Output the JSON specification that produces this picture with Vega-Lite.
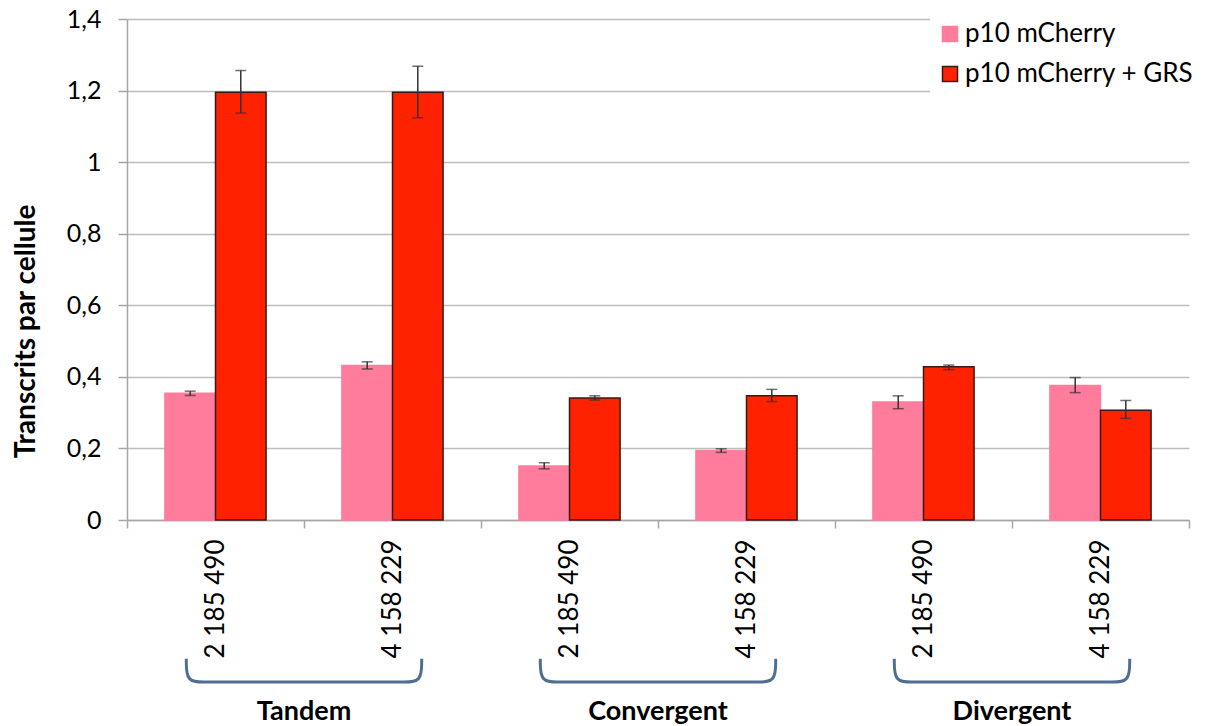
{
  "$schema": "https://vega.github.io/schema/vega-lite/v6.json",
  "width": 1062,
  "height": 501,
  "autosize": "none",
  "padding": {"left": 127, "top": 19, "right": 17, "bottom": 206},
  "background": "white",
  "config": {
    "view": {"stroke": null},
    "font": "Lato",
    "axis": {
      "domainColor": "#A6A6A6",
      "tickColor": "#A6A6A6",
      "gridColor": "#BDBDBD",
      "labelColor": "black",
      "titleColor": "black"
    }
  },
  "datasets": {
    "bars": [
      {"cat": "Tandem|2 185 490", "series": "p10 mCherry", "value": 0.354, "lo": 0.348, "hi": 0.360},
      {"cat": "Tandem|2 185 490", "series": "p10 mCherry + GRS", "value": 1.195, "lo": 1.137, "hi": 1.256},
      {"cat": "Tandem|4 158 229", "series": "p10 mCherry", "value": 0.432, "lo": 0.422, "hi": 0.442},
      {"cat": "Tandem|4 158 229", "series": "p10 mCherry + GRS", "value": 1.195, "lo": 1.124, "hi": 1.268},
      {"cat": "Convergent|2 185 490", "series": "p10 mCherry", "value": 0.151, "lo": 0.143, "hi": 0.160},
      {"cat": "Convergent|2 185 490", "series": "p10 mCherry + GRS", "value": 0.341, "lo": 0.335, "hi": 0.347},
      {"cat": "Convergent|4 158 229", "series": "p10 mCherry", "value": 0.194, "lo": 0.189, "hi": 0.199},
      {"cat": "Convergent|4 158 229", "series": "p10 mCherry + GRS", "value": 0.347, "lo": 0.331, "hi": 0.365},
      {"cat": "Divergent|2 185 490", "series": "p10 mCherry", "value": 0.330, "lo": 0.311, "hi": 0.347},
      {"cat": "Divergent|2 185 490", "series": "p10 mCherry + GRS", "value": 0.428, "lo": 0.420, "hi": 0.433},
      {"cat": "Divergent|4 158 229", "series": "p10 mCherry", "value": 0.376, "lo": 0.356, "hi": 0.398},
      {"cat": "Divergent|4 158 229", "series": "p10 mCherry + GRS", "value": 0.307, "lo": 0.284, "hi": 0.334}
    ],
    "braces": [
      {"group": "Tandem", "k": 1, "pos": 0.335, "level": -0.388},
      {"group": "Tandem", "k": 2, "pos": 0.335, "level": -0.453},
      {"group": "Tandem", "k": 3, "pos": 0.435, "level": -0.453},
      {"group": "Tandem", "k": 4, "pos": 0.535, "level": -0.453},
      {"group": "Tandem", "k": 5, "pos": 1.465, "level": -0.453},
      {"group": "Tandem", "k": 6, "pos": 1.565, "level": -0.453},
      {"group": "Tandem", "k": 7, "pos": 1.665, "level": -0.453},
      {"group": "Tandem", "k": 8, "pos": 1.665, "level": -0.388},
      {"group": "Convergent", "k": 1, "pos": 2.335, "level": -0.388},
      {"group": "Convergent", "k": 2, "pos": 2.335, "level": -0.453},
      {"group": "Convergent", "k": 3, "pos": 2.435, "level": -0.453},
      {"group": "Convergent", "k": 4, "pos": 2.535, "level": -0.453},
      {"group": "Convergent", "k": 5, "pos": 3.465, "level": -0.453},
      {"group": "Convergent", "k": 6, "pos": 3.565, "level": -0.453},
      {"group": "Convergent", "k": 7, "pos": 3.665, "level": -0.453},
      {"group": "Convergent", "k": 8, "pos": 3.665, "level": -0.388},
      {"group": "Divergent", "k": 1, "pos": 4.335, "level": -0.388},
      {"group": "Divergent", "k": 2, "pos": 4.335, "level": -0.453},
      {"group": "Divergent", "k": 3, "pos": 4.435, "level": -0.453},
      {"group": "Divergent", "k": 4, "pos": 4.535, "level": -0.453},
      {"group": "Divergent", "k": 5, "pos": 5.465, "level": -0.453},
      {"group": "Divergent", "k": 6, "pos": 5.565, "level": -0.453},
      {"group": "Divergent", "k": 7, "pos": 5.665, "level": -0.453},
      {"group": "Divergent", "k": 8, "pos": 5.665, "level": -0.388}
    ],
    "groups": [
      {"group": "Tandem", "pos": 1, "level": -0.537},
      {"group": "Convergent", "pos": 3, "level": -0.537},
      {"group": "Divergent", "pos": 5, "level": -0.537}
    ]
  },
  "layer": [
    {
      "data": {"name": "bars"},
      "encoding": {
        "x": {
          "field": "cat", "type": "nominal", "sort": null,
          "scale": {"paddingInner": 0, "paddingOuter": 0},
          "axis": {
            "title": null, "labelAngle": 270, "labelFontSize": 26, "labelFont": "Lato",
            "tickBand": "extent", "tickSize": 8, "labelPadding": 11, "grid": false,
            "labelExpr": "split(datum.value, '|')[1]", "domainWidth": 1.5, "tickWidth": 1.5
          }
        },
        "xOffset": {"field": "series", "type": "nominal", "sort": null, "scale": {"paddingInner": 0, "paddingOuter": 0.75}}
      },
      "layer": [
        {
          "mark": {"type": "bar", "strokeWidth": 1.5},
          "encoding": {
            "y": {
              "field": "value", "type": "quantitative",
              "scale": {"domain": [0, 1.4], "nice": false},
              "axis": {
                "values": [0, 0.2, 0.4, 0.6, 0.8, 1, 1.2, 1.4],
                "labelExpr": "replace(format(datum.value, '~g'), '.', ',')",
                "labelFontSize": 25, "labelFont": "Lato", "tickSize": 9, "labelPadding": 17,
                "grid": true, "gridWidth": 1.3, "domainWidth": 1.5, "tickWidth": 1.5,
                "title": "Transcrits par cellule", "titleFont": "Lato", "titleFontWeight": "bold",
                "titleFontSize": 28, "titleX": -101, "titleY": 312, "titleBaseline": "middle", "titleAngle": 270
              }
            },
            "color": {
              "field": "series", "type": "nominal", "sort": null,
              "scale": {"range": ["#FF7C9C", "#FF2200"]},
              "legend": {
                "title": null, "orient": "none", "legendX": 803, "legendY": -5,
                "fillColor": "white", "padding": 7, "symbolType": "square", "symbolSize": 225,
                "labelFontSize": 26, "labelFont": "Lato", "rowPadding": 14, "labelOffset": 2,
                "symbolStrokeWidth": 1.5, "labelColor": "black", "labelLimit": 0
              }
            },
            "stroke": {
              "field": "series", "type": "nominal", "sort": null,
              "scale": {"range": ["#FF7C9C", "#3A1A14"]},
              "legend": {
                "title": null, "orient": "none", "legendX": 803, "legendY": -5,
                "fillColor": "white", "padding": 7, "symbolType": "square", "symbolSize": 225,
                "labelFontSize": 26, "labelFont": "Lato", "rowPadding": 14, "labelOffset": 2,
                "symbolStrokeWidth": 1.5, "labelColor": "black", "labelLimit": 0
              }
            }
          }
        },
        {
          "mark": {"type": "rule", "color": "#333333", "strokeWidth": 1.5},
          "encoding": {
            "y": {"field": "lo", "type": "quantitative", "scale": {"domain": [0, 1.4], "nice": false}},
            "y2": {"field": "hi"}
          }
        },
        {
          "mark": {"type": "tick", "color": "#333333", "thickness": 1.5, "size": 11},
          "encoding": {
            "y": {"field": "lo", "type": "quantitative", "scale": {"domain": [0, 1.4], "nice": false}}
          }
        },
        {
          "mark": {"type": "tick", "color": "#333333", "thickness": 1.5, "size": 11},
          "encoding": {
            "y": {"field": "hi", "type": "quantitative", "scale": {"domain": [0, 1.4], "nice": false}}
          }
        }
      ]
    },
    {
      "layer": [
        {
          "data": {"name": "braces"},
          "mark": {"type": "line", "interpolate": "basis", "stroke": "#4F6F92", "strokeWidth": 3},
          "encoding": {
            "x": {"field": "pos", "type": "quantitative", "scale": {"domain": [0, 6], "nice": false, "zero": false}, "axis": null},
            "y": {"field": "level", "type": "quantitative", "scale": {"domain": [0, 1.4], "nice": false}},
            "detail": {"field": "group"},
            "order": {"field": "k"}
          }
        },
        {
          "data": {"name": "groups"},
          "mark": {"type": "text", "font": "Lato", "fontWeight": "bold", "fontSize": 27, "baseline": "middle", "align": "center", "color": "black"},
          "encoding": {
            "x": {"field": "pos", "type": "quantitative", "scale": {"domain": [0, 6], "nice": false, "zero": false}, "axis": null},
            "y": {"field": "level", "type": "quantitative", "scale": {"domain": [0, 1.4], "nice": false}},
            "text": {"field": "group"}
          }
        }
      ]
    }
  ],
  "resolve": {"scale": {"x": "independent"}}
}
